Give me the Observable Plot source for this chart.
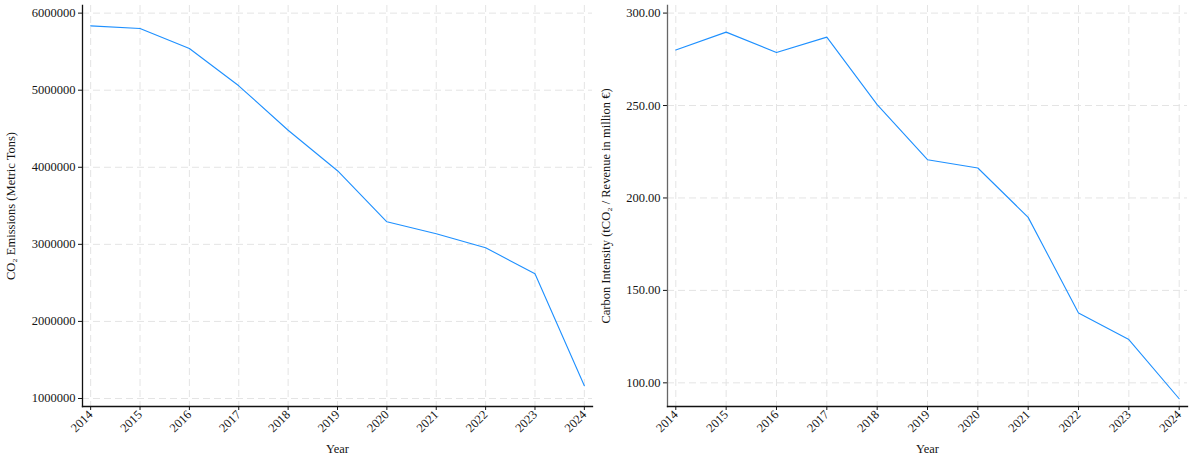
<!DOCTYPE html>
<html>
<head>
<meta charset="utf-8">
<script src="https://cdn.jsdelivr.net/npm/d3@7"></script>
<script src="https://cdn.jsdelivr.net/npm/@observablehq/plot@0.6"></script>
<style>
  body { margin: 0; background: #fff; }
  #row { display: flex; width: 1192px; height: 459px; }
  #row svg { display: block; flex: none; }
</style>
</head>
<body>
<div id="row"></div>
<script>
// Reporting years
const years = [2014, 2015, 2016, 2017, 2018, 2019, 2020, 2021, 2022, 2023, 2024];

// Absolute CO₂ emissions, metric tons
const emissions = [5835000, 5800000, 5541000, 5057000, 4480000, 3955000, 3293000, 3137000, 2956000, 2619000, 1166000];

// Carbon intensity, tCO₂ per million € of revenue
const intensity = [280.0, 289.7, 278.7, 287.0, 250.5, 220.7, 216.2, 189.5, 137.8, 123.4, 91.4];

// Tick values
const emissionTicks = [1000000, 2000000, 3000000, 4000000, 5000000, 6000000];
const intensityTicks = [100, 150, 200, 250, 300];

const xDomain = [2013.835, 2024.165];

function panel({values, ticks, yDomain, tickFormat, label, width, marginLeft, marginRight, labelOffset, yAxisColor}) {
  const rows = years.map((year, i) => ({year, value: values[i]}));
  const grid = {stroke: "#e4e4e4", strokeOpacity: 1, strokeDasharray: "7,4", strokeWidth: 1};
  return Plot.plot({
    width,
    height: 459,
    marginTop: 5,
    marginBottom: 53,
    marginLeft,
    marginRight,
    style: {
      fontFamily: '"Liberation Serif", "Times New Roman", serif',
      fontSize: "12.5px",
      color: "#151515",
      background: "#fff",
      overflow: "visible"
    },
    x: {domain: xDomain},
    y: {domain: yDomain},
    marks: [
      Plot.gridX(years, grid),
      Plot.gridY(ticks, grid),
      Plot.axisX(years, {
        tickFormat: d => String(d),
        tickRotate: -45,
        tickSize: 4,
        tickPadding: 2,
        label: "Year",
        labelAnchor: "center",
        labelArrow: "none",
        labelOffset: 46
      }),
      Plot.axisY(ticks, {
        tickFormat,
        tickSize: 4,
        tickPadding: 3,
        label,
        labelAnchor: "center",
        labelArrow: "none",
        labelOffset
      }),
      Plot.line(rows, {x: "year", y: "value", stroke: "#1e90ff", strokeWidth: 1.1}),
      Plot.frame({anchor: "left", stroke: yAxisColor, strokeWidth: 1.3}),
      Plot.frame({anchor: "bottom", stroke: "#111", strokeWidth: 1.3})
    ]
  });
}

const row = document.getElementById("row");

row.append(panel({
  values: emissions,
  ticks: emissionTicks,
  yDomain: [896000, 6099000],
  tickFormat: d3.format("d"),
  label: "CO₂ Emissions (Metric Tons)",
  width: 596,
  marginLeft: 82,
  marginRight: 4,
  labelOffset: 76,
  yAxisColor: "#111"
}));

row.append(panel({
  values: intensity,
  ticks: intensityTicks,
  yDomain: [87.2, 304.1],
  tickFormat: d3.format(".2f"),
  label: "Carbon Intensity (tCO₂ / Revenue in million €)",
  width: 596,
  marginLeft: 71,
  marginRight: 5,
  labelOffset: 66,
  yAxisColor: "#666"
}));
</script>
</body>
</html>
